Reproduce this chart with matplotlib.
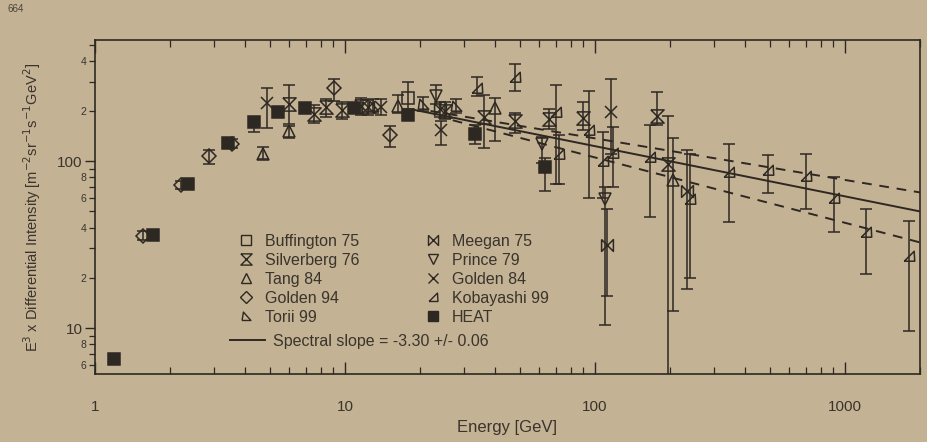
import numpy as np
import matplotlib
matplotlib.use("Agg")
import matplotlib.pyplot as plt
from matplotlib.ticker import FixedLocator, FixedFormatter
from matplotlib.lines import Line2D

plt.rcParams['font.family'] = ['Liberation Sans', 'DejaVu Sans']

# Valores: energia [GeV] e E^3 x intensidade (ponto, extremo inferior, extremo superior)
heat_e = [1.19, 1.71, 2.35, 3.42, 4.33, 5.39, 6.9, 10.9, 17.9, 33, 63]
heat_i = [6.5, 36, 73, 129, 173, 196, 208, 209, 188, 146, 92]
heat_lo = [6.2, 34.5, 70, 122, 150, 188, 200, 200, 178, 126, 66]
heat_hi = [6.8, 37.5, 76, 136, 180, 204, 216, 218, 198, 166, 104]

buff_e = [17.9]
buff_i = [238]
buff_lo = [205]
buff_hi = [300]

silv_e = [6.0, 7.5, 8.4, 9.7, 11.6, 25.1, 36.1, 47.9, 65.8, 89.7, 178, 196]
silv_i = [219, 192, 210, 203, 215, 201, 185, 175, 179, 181, 186, 96]
silv_lo = [168, 170, 185, 180, 190, 180, 120, 147, 155, 153, 164, 4]
silv_hi = [286, 218, 235, 228, 240, 225, 250, 195, 205, 227, 261, 187]

tang_e = [4.7, 6.0, 16.3, 39.9, 205]
tang_i = [111, 151, 214, 209, 77]
tang_lo = [103, 138, 195, 132, 12.6]
tang_hi = [121, 162, 250, 239, 138]

gold94_e = [1.56, 2.2, 2.85, 3.54, 9.05, 15.2]
gold94_i = [35.5, 72, 107, 127, 273, 143]
gold94_lo = [33.5, 68.5, 96, 120, 231, 121]
gold94_hi = [38, 76, 117, 135, 313, 163]

torii_e = [13.0, 20.5, 27.7]
torii_i = [215, 221, 214]
torii_lo = [195, 200, 195]
torii_hi = [237, 243, 236]

meeg_e = [12.4, 24, 112, 233]
meeg_i = [210, 205, 31.5, 66]
meeg_lo = [190, 185, 15.5, 17.2]
meeg_hi = [232, 228, 52, 116]

prince_e = [23.1, 61.2, 110]
prince_i = [246, 126, 59.5]
prince_lo = [220, 98, 10.4]
prince_hi = [287, 140, 70]

gold84_e = [4.87, 14.0, 24.2, 116]
gold84_i = [222, 212, 153, 198]
gold84_lo = [159, 190, 125, 110]
gold84_hi = [275, 235, 175, 313]

koba_e = [33.9, 47.9, 70.1, 72.2, 94.7, 108, 118, 166, 240, 345, 492, 701, 905, 1211, 1807]
koba_i = [276, 320, 196, 110, 153, 100, 112, 106, 59, 86, 88, 82, 60, 37.5, 27]
koba_lo = [245, 262, 73.5, 73, 60, 60, 70, 46, 20, 43.5, 64.6, 52, 37.4, 21, 9.6]
koba_hi = [320, 381, 285, 144, 262, 150, 160, 165, 110, 127, 109, 110, 80, 52, 44]

# Ajuste em lei de potência (extremos das retas em log-log)
fit_e = [19, 2000]
fit_i = [203, 50]
upper_e = [22, 2000]
upper_i = [200, 65]
lower_e = [27, 2000]
lower_i = [176, 32.6]

ink = '#2e2822'
paper = '#c3b293'

# marcadores especiais
hourglass = [(-1, 1), (1, 1), (-1, -1), (1, -1), (-1, 1)]
bowtie = [(-1, 1), (-1, -1), (1, 1), (1, -1), (-1, 1)]
torii_mk = [(-1, -0.9), (1, -0.9), (-0.7, 1), (-1, -0.9)]
koba_mk = [(-1, -0.9), (1, -0.9), (0.9, 1), (-1, -0.9)]

series = [
    ("Buffington 75", buff_e, buff_i, buff_lo, buff_hi, 's', 8.5, 'none'),
    ("Silverberg 76", silv_e, silv_i, silv_lo, silv_hi, hourglass, 9.5, 'none'),
    ("Tang 84", tang_e, tang_i, tang_lo, tang_hi, '^', 8.5, 'none'),
    ("Golden 94", gold94_e, gold94_i, gold94_lo, gold94_hi, 'D', 7, 'none'),
    ("Torii 99", torii_e, torii_i, torii_lo, torii_hi, torii_mk, 7.5, 'none'),
    ("Meegan 75", meeg_e, meeg_i, meeg_lo, meeg_hi, bowtie, 8.5, 'none'),
    ("Prince 79", prince_e, prince_i, prince_lo, prince_hi, 'v', 8.5, 'none'),
    ("Golden 84", gold84_e, gold84_i, gold84_lo, gold84_hi, 'x', 8.5, 'none'),
    ("Kobayashi 99", koba_e, koba_i, koba_lo, koba_hi, koba_mk, 7.5, 'none'),
    ("HEAT", heat_e, heat_i, heat_lo, heat_hi, 's', 8, ink),
]

fig = plt.figure(figsize=(9.28, 4.42), dpi=100, facecolor=paper)
ax = fig.add_axes([95 / 928, 1 - 374 / 442, 825 / 928, 334 / 442])
ax.set_facecolor(paper)
ax.set_xscale('log')
ax.set_yscale('log')
ax.set_xlim(1, 2000)
ax.set_ylim(5.3, 533)

handles = []
for name, e, i, lo, hi, mk, ms, fc in series:
    i_arr = np.array(i)
    yerr = [i_arr - np.array(lo), np.array(hi) - i_arr]
    ax.errorbar(e, i, yerr=yerr, fmt='none', ecolor=ink, elinewidth=1.1,
                capsize=4.2, capthick=1.1, zorder=2)
    ax.plot(e, i, linestyle='none', marker=mk, markersize=ms,
            markerfacecolor=fc, markeredgecolor=ink, markeredgewidth=1.1, zorder=3)
    handles.append(Line2D([], [], linestyle='none', marker=mk, markersize=ms * 0.85,
                          markerfacecolor=fc, markeredgecolor=ink,
                          markeredgewidth=1.0, label=name))

fit_line, = ax.plot(fit_e, fit_i, color=ink, lw=1.4, zorder=4,
                    label="Spectral slope = -3.30 +/- 0.06")
ax.plot(upper_e, upper_i, color=ink, lw=1.4, ls=(0, (5, 4)), zorder=4)
ax.plot(lower_e, lower_i, color=ink, lw=1.4, ls=(0, (5, 4)), zorder=4)

# eixos e marcações
for s in ax.spines.values():
    s.set_color(ink)
    s.set_linewidth(1.2)

ax.xaxis.set_major_locator(FixedLocator([1, 10, 100, 1000]))
ax.xaxis.set_major_formatter(FixedFormatter(['1', '10', '100', '1000']))
xminor = [m * 10 ** d for d in range(0, 4) for m in range(2, 10) if m * 10 ** d <= 2000]
ax.xaxis.set_minor_locator(FixedLocator(xminor))
ax.xaxis.set_minor_formatter(FixedFormatter([''] * len(xminor)))

ax.yaxis.set_major_locator(FixedLocator([10, 100]))
ax.yaxis.set_major_formatter(FixedFormatter(['10', '100']))
yminor = [6, 7, 8, 9, 20, 30, 40, 50, 60, 70, 80, 90, 200, 300, 400, 500]
ylab = {6: '6', 8: '8', 20: '2', 40: '4', 60: '6', 80: '8', 200: '2', 400: '4'}
ax.yaxis.set_minor_locator(FixedLocator(yminor))
ax.yaxis.set_minor_formatter(FixedFormatter([ylab.get(v, '') for v in yminor]))

ax.tick_params(axis='x', which='both', direction='in', top=True, colors=ink,
               labelcolor='#3a342d', labelsize=11, pad=19)
ax.tick_params(axis='x', which='major', length=9, width=1.0)
ax.tick_params(axis='x', which='minor', length=5, width=0.9)
ax.tick_params(axis='y', which='both', direction='out', colors=ink,
               labelcolor='#3a342d')
ax.tick_params(axis='y', which='major', length=7, width=1.0, labelsize=11, pad=2)
ax.tick_params(axis='y', which='minor', length=4, width=0.9, labelsize=7.5, pad=2)

ax.set_xlabel("Energy [GeV]", fontsize=12, color='#3a342d', labelpad=4)
ax.set_ylabel(r"E$^3$ x Differential Intensity [m$^{-2}$sr$^{-1}$s$^{-1}$GeV$^2$]",
              fontsize=10.5, color='#3a342d', labelpad=10)

# legenda (duas partes: marcadores e a reta do ajuste)
leg1 = ax.legend(handles=handles, ncol=2, frameon=False, fontsize=11.5,
                 loc='upper left', bbox_to_anchor=(228 / 928, 1 - 226 / 442),
                 bbox_transform=fig.transFigure, labelspacing=0.25,
                 handletextpad=0.6, columnspacing=4.0, handlelength=1.2,
                 labelcolor='#3a342d', borderpad=0)
ax.add_artist(leg1)
ax.legend(handles=[fit_line], frameon=False, fontsize=11.5, loc='upper left',
          bbox_to_anchor=(222 / 928, 1 - 326 / 442), bbox_transform=fig.transFigure,
          handlelength=2.2, handletextpad=0.5, labelcolor='#3a342d', borderpad=0)

fig.text(8 / 928, 1 - 4 / 442, "664", fontsize=7, color='#4a433a', va='top')

fig.savefig("out.png", dpi=100, facecolor=paper)
